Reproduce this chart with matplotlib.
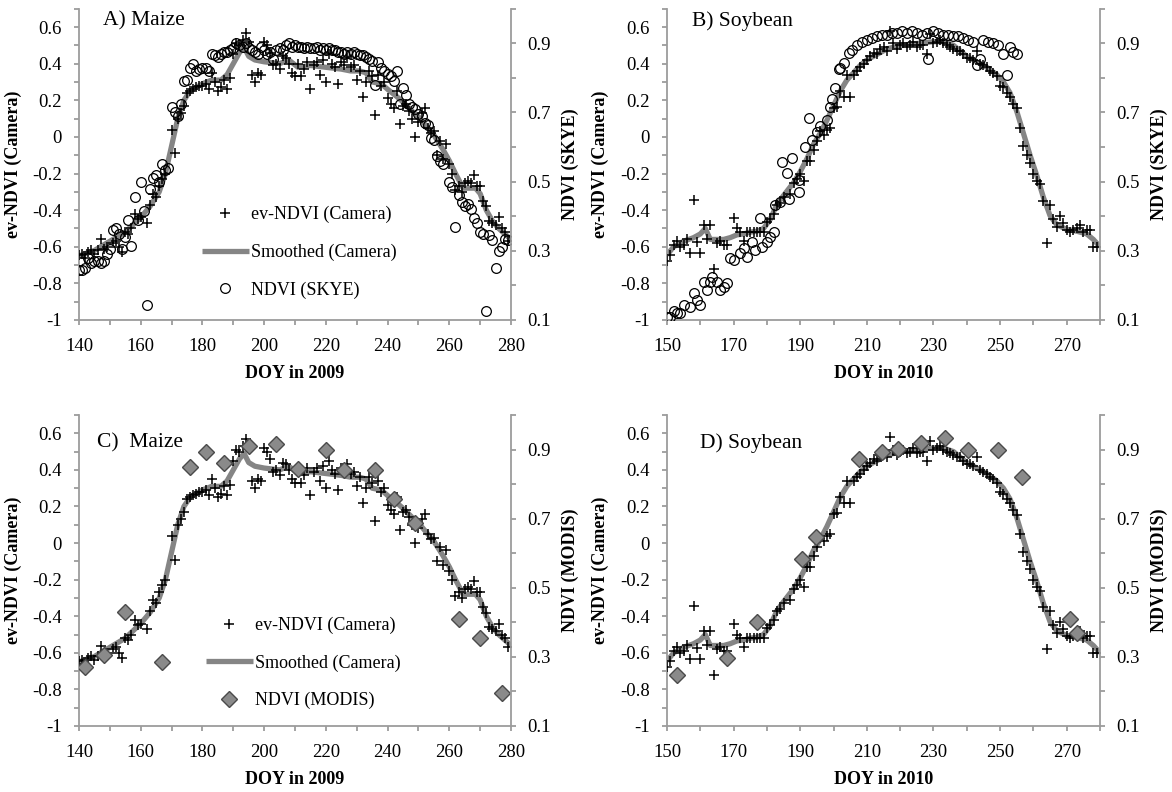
import numpy as np
import matplotlib
matplotlib.use('Agg')
import matplotlib.pyplot as plt
from matplotlib.ticker import FixedLocator, FuncFormatter
from matplotlib.lines import Line2D

plt.rcParams['font.family'] = ['Liberation Serif', 'DejaVu Serif']
plt.rcParams['axes.unicode_minus'] = False

# ---- maize 2009 ----
maize_cam_doy = [140, 141, 142, 143, 144, 145, 146, 147, 148, 149, 151, 152, 153, 154, 155, 156, 157, 158,
                 159, 160, 162, 163, 164, 165, 166, 167, 168, 170, 171, 172, 173, 174, 175, 176, 177, 178,
                 179, 180, 181, 182, 183, 184, 185, 186, 187, 188, 189, 190, 191, 192, 193, 194, 195, 196,
                 197, 198, 199, 200, 201, 202, 203, 204, 205, 206, 207, 208, 209, 210, 211, 212, 213, 214,
                 215, 216, 217, 218, 219, 220, 221, 222, 223, 224, 225, 226, 227, 228, 229, 230, 231, 232,
                 233, 234, 235, 236, 237, 238, 239, 240, 241, 242, 243, 244, 245, 246, 247, 248, 249, 250,
                 251, 252, 253, 254, 255, 256, 257, 258, 259, 260, 261, 262, 263, 264, 265, 266, 267, 268,
                 269, 270, 271, 272, 273, 274, 275, 276, 277, 278, 279]
maize_cam = [-0.645, -0.64, -0.66, -0.63, -0.62, -0.64, -0.62, -0.56, -0.61, -0.60, -0.58, -0.57, -0.60,
             -0.63, -0.52, -0.53, -0.50, -0.42, -0.45, -0.44, -0.47, -0.37, -0.31, -0.33, -0.27, -0.23,
             -0.20, 0.04, -0.09, 0.10, 0.13, 0.17, 0.24, 0.25, 0.26, 0.27, 0.28, 0.28, 0.29, 0.26, 0.35,
             0.30, 0.25, 0.27, 0.31, 0.26, 0.32, 0.45, 0.51, 0.50, 0.53, 0.57, 0.52, 0.34, 0.30, 0.35,
             0.34, 0.52, 0.50, 0.46, 0.39, 0.40, 0.37, 0.44, 0.43, 0.40, 0.35, 0.33, 0.40, 0.33, 0.37,
             0.41, 0.26, 0.39, 0.41, 0.34, 0.42, 0.30, 0.45, 0.40, 0.38, 0.29, 0.41, 0.39, 0.43, 0.38,
             0.39, 0.31, 0.36, 0.22, 0.30, 0.36, 0.33, 0.12, 0.34, 0.28, 0.30, 0.21, 0.18, 0.16, 0.25,
             0.07, 0.17, 0.18, 0.14, 0.10, 0.00, 0.08, 0.13, 0.16, 0.05, 0.02, 0.03, -0.10, -0.02, -0.12,
             -0.04, -0.15, -0.20, -0.29, -0.27, -0.30, -0.25, -0.24, -0.25, -0.21, -0.27, -0.27, -0.35,
             -0.38, -0.46, -0.47, -0.48, -0.44, -0.50, -0.52, -0.57]

maize_smooth_doy = [140, 145, 150, 155, 160, 163, 166, 168, 170, 172, 174, 176, 180, 183, 186, 188, 190,
                    192, 193.5, 195, 197, 200, 205, 208, 211, 215, 220, 225, 228, 231, 233, 235, 238, 240,
                    243, 245, 248, 250, 252, 255, 258, 260, 262, 264.5, 266, 268.5, 270, 272, 274, 276,
                    278, 280]
maize_smooth = [-0.65, -0.62, -0.57, -0.52, -0.44, -0.38, -0.30, -0.20, -0.05, 0.10, 0.20, 0.25, 0.29,
                0.31, 0.31, 0.34, 0.40, 0.46, 0.49, 0.44, 0.42, 0.41, 0.40, 0.42, 0.38, 0.39, 0.38, 0.37,
                0.36, 0.36, 0.35, 0.30, 0.29, 0.26, 0.22, 0.19, 0.14, 0.11, 0.07, 0.01, -0.07, -0.13,
                -0.20, -0.28, -0.28, -0.28, -0.31, -0.40, -0.46, -0.50, -0.53, -0.56]

maize_skye_doy = [140, 141, 142, 143, 144, 145, 146, 147, 148, 149, 150, 151, 152, 153, 154, 155, 156,
                  157, 158, 159, 160, 161, 162, 163, 164, 165, 166, 167, 168, 169, 170, 171, 172, 173,
                  174, 175, 176, 177, 178, 179, 180, 181, 182, 183, 184, 185, 186, 187, 188, 189, 190,
                  191, 192, 193, 194, 195, 196, 197, 198, 199, 200, 201, 202, 203, 204, 205, 206, 207,
                  208, 209, 210, 211, 212, 213, 214, 215, 216, 217, 218, 219, 220, 221, 222, 223, 224,
                  225, 226, 227, 228, 229, 230, 231, 232, 233, 234, 235, 236, 237, 238, 239, 240, 241,
                  242, 243, 244, 245, 246, 247, 248, 249, 250, 251, 252, 253, 254, 255, 256, 257, 258,
                  260, 261, 262, 263, 264, 265, 266, 267, 268, 269, 270, 271, 272, 273, 274, 275, 276,
                  277, 278, 279]
maize_skye = [0.245, 0.245, 0.25, 0.28, 0.265, 0.27, 0.27, 0.265, 0.27, 0.29, 0.305, 0.36, 0.365, 0.35,
              0.305, 0.34, 0.39, 0.315, 0.455, 0.39, 0.50, 0.415, 0.143, 0.48, 0.51, 0.52, 0.50, 0.55,
              0.535, 0.54, 0.715, 0.70, 0.69, 0.725, 0.79, 0.795, 0.83, 0.84, 0.82, 0.825, 0.83, 0.83,
              0.82, 0.87, 0.865, 0.86, 0.87, 0.875, 0.875, 0.88, 0.885, 0.90, 0.895, 0.89, 0.90, 0.885,
              0.88, 0.875, 0.87, 0.89, 0.88, 0.87, 0.875, 0.855, 0.88, 0.885, 0.88, 0.895, 0.90, 0.89,
              0.895, 0.89, 0.89, 0.885, 0.89, 0.885, 0.885, 0.89, 0.88, 0.885, 0.88, 0.885, 0.88, 0.88,
              0.875, 0.875, 0.87, 0.875, 0.87, 0.875, 0.87, 0.865, 0.865, 0.86, 0.855, 0.85, 0.78, 0.845,
              0.83, 0.82, 0.81, 0.805, 0.79, 0.82, 0.725, 0.77, 0.75, 0.725, 0.715, 0.71, 0.695, 0.69,
              0.67, 0.665, 0.625, 0.62, 0.575, 0.56, 0.55, 0.50, 0.485, 0.37, 0.46, 0.44, 0.43, 0.435,
              0.42, 0.395, 0.38, 0.355, 0.35, 0.126, 0.345, 0.33, 0.25, 0.30, 0.31, 0.335, 0.33]

maize_modis_doy = [142, 148, 155, 167, 176, 181, 187, 195, 204, 211, 220, 226, 236, 242, 249, 263, 270, 277]
maize_modis = [0.27, 0.305, 0.43, 0.285, 0.85, 0.893, 0.86, 0.91, 0.915, 0.845, 0.898, 0.842, 0.842,
               0.758, 0.688, 0.41, 0.355, 0.195]

# ---- soybean 2010 ----
soy_cam_doy = [150, 151, 152, 153, 154, 155, 156, 157, 158, 159, 160, 161, 162, 163, 164, 165, 166, 167,
               168, 170, 171, 172, 173, 174, 175, 176, 177, 178, 179, 180, 181, 182, 183, 184, 185, 187,
               188, 189, 190, 191, 192, 193, 194, 195, 196, 197, 198, 199, 200, 201, 202, 203, 204, 205,
               206, 207, 208, 209, 210, 211, 212, 213, 214, 215, 216, 217, 218, 219, 220, 221, 222, 223,
               224, 225, 226, 227, 228, 229, 230, 231, 232, 233, 234, 235, 236, 237, 238, 239, 240, 241,
               242, 243, 244, 245, 246, 247, 248, 249, 250, 251, 252, 253, 254, 255, 256, 257, 258, 259,
               260, 261, 262, 263, 264, 265, 266, 267, 268, 269, 270, 271, 272, 273, 274, 275, 276, 277,
               278, 279]
soy_cam = [-0.68, -0.645, -0.59, -0.57, -0.60, -0.59, -0.555, -0.635, -0.345, -0.575, -0.635, -0.48,
           -0.555, -0.48, -0.72, -0.58, -0.57, -0.59, -0.59, -0.445, -0.50, -0.52, -0.57, -0.52, -0.52,
           -0.52, -0.52, -0.52, -0.52, -0.465, -0.45, -0.42, -0.37, -0.36, -0.33, -0.31, -0.25, -0.23,
           -0.20, -0.24, -0.13, -0.13, -0.07, -0.02, 0.03, 0.01, 0.04, 0.05, 0.16, 0.165, 0.25, 0.22,
           0.34, 0.22, 0.34, 0.36, 0.38, 0.40, 0.42, 0.44, 0.46, 0.45, 0.48, 0.49, 0.47, 0.58, 0.51,
           0.48, 0.50, 0.51, 0.49, 0.50, 0.52, 0.49, 0.50, 0.50, 0.45, 0.56, 0.51, 0.52, 0.53, 0.51,
           0.50, 0.49, 0.48, 0.47, 0.47, 0.45, 0.43, 0.43, 0.42, 0.47, 0.40, 0.39, 0.38, 0.36, 0.35,
           0.33, 0.28, 0.27, 0.24, 0.22, 0.18, 0.156, 0.05, -0.05, -0.10, -0.14, -0.20, -0.24, -0.26,
           -0.35, -0.58, -0.37, -0.45, -0.49, -0.43, -0.47, -0.51, -0.52, -0.51, -0.50, -0.48, -0.52,
           -0.51, -0.51, -0.60, -0.60]

soy_smooth_doy = [150, 152, 155, 158, 160, 161.5, 163, 165, 167, 169, 171, 173, 175, 177, 179, 181, 183,
                  185, 188, 190, 192, 194, 196, 198, 200, 202, 204, 206, 208, 210, 213, 216, 220, 225,
                  230, 233, 236, 238, 240, 243, 246, 249, 251, 253, 255, 257, 259, 261, 263, 265, 267,
                  270, 273, 276, 278, 280]
soy_smooth = [-0.645, -0.60, -0.57, -0.55, -0.53, -0.50, -0.56, -0.56, -0.56, -0.55, -0.535, -0.53,
              -0.52, -0.515, -0.50, -0.45, -0.37, -0.32, -0.25, -0.19, -0.12, -0.04, 0.02, 0.09, 0.17,
              0.25, 0.31, 0.35, 0.39, 0.42, 0.45, 0.48, 0.50, 0.51, 0.52, 0.52, 0.50, 0.47, 0.44, 0.41,
              0.38, 0.34, 0.30, 0.24, 0.14, 0.02, -0.10, -0.21, -0.33, -0.43, -0.48, -0.505, -0.515,
              -0.53, -0.56, -0.60]

soy_skye_doy = [150, 151, 152, 153, 154, 155, 157, 158, 159, 160, 161, 162, 163, 163.5, 165, 166, 167,
                168, 169, 170, 172, 173, 174, 175.5, 176.5, 178, 178.5, 180, 181, 182, 182.5, 184, 184.5,
                186, 186.5, 187.5, 189.5, 189.5, 191.5, 192.5, 193.5, 195, 196, 198, 199, 199.5, 200.5,
                201.5, 202, 203, 204.5, 205.5, 207, 208.5, 210, 211.5, 213, 214.5, 216, 217.5, 219,
                220.5, 222, 223.5, 225, 226.5, 228, 228.5, 230, 231.5, 233, 234.5, 236, 237.5, 239,
                240.5, 242, 243, 244, 245, 246.5, 248, 249.5, 251, 252, 253, 254, 255]
soy_skye = [0.108, 0.11, 0.127, 0.12, 0.12, 0.143, 0.137, 0.177, 0.157, 0.143, 0.21, 0.186, 0.21, 0.225,
            0.21, 0.186, 0.196, 0.206, 0.278, 0.273, 0.293, 0.307, 0.283, 0.326, 0.302, 0.394, 0.31,
            0.326, 0.34, 0.355, 0.432, 0.442, 0.557, 0.524, 0.45, 0.567, 0.47, 0.505, 0.60, 0.683, 0.62,
            0.644, 0.66, 0.678, 0.716, 0.74, 0.77, 0.827, 0.83, 0.842, 0.871, 0.88, 0.895, 0.905, 0.91,
            0.915, 0.92, 0.925, 0.925, 0.93, 0.93, 0.935, 0.93, 0.935, 0.93, 0.925, 0.93, 0.856, 0.935,
            0.93, 0.925, 0.925, 0.92, 0.92, 0.915, 0.91, 0.905, 0.837, 0.856, 0.909, 0.905, 0.90, 0.895,
            0.87, 0.808, 0.89, 0.875, 0.87]

soy_modis_doy = [153, 168, 177, 190.4, 194.8, 207.7, 214.4, 219.4, 226.4, 233.4, 240.4, 249.4, 256.5, 271, 273]
soy_modis = [0.248, 0.296, 0.40, 0.582, 0.647, 0.874, 0.893, 0.903, 0.919, 0.934, 0.90, 0.90, 0.82, 0.41, 0.37]

GRAY_AXIS = '#9c9c9c'
GRAY_LINE = '#858585'
GRAY_DIAMOND = '#8a8a8a'

fig = plt.figure(figsize=(11.72, 7.92), dpi=100)
W, H = 1172, 792


def add_axes(left, right, top, bottom):
    return fig.add_axes([left / W, 1 - bottom / H, (right - left) / W, (bottom - top) / H])


def fmt(v, pos):
    return f'{round(v, 1):g}'


def draw_panel(ax, title, title_xy, cam_doy, cam, sm_doy, sm, ref_doy, ref, ref_kind, xlim, xmajor,
               xminor, xlabel, rlabel, leg_anchor, leg_labels):
    ax2 = ax.twinx()
    ax.plot(sm_doy, sm, color=GRAY_LINE, lw=3.8, solid_capstyle='butt', zorder=2)
    ax.plot(cam_doy, cam, ls='none', marker='+', color='black', ms=6.5, mew=1.1, zorder=3)
    if ref_kind == 'o':
        ax2.plot(ref_doy, ref, ls='none', marker='o', mfc='none', mec='black', ms=7, mew=0.9)
        ref_handle = Line2D([], [], ls='none', marker='o', mfc='none', mec='black', ms=7, mew=0.9)
    else:
        ax2.plot(ref_doy, ref, ls='none', marker='D', mfc=GRAY_DIAMOND, mec='#4a4a4a', ms=8.5, mew=1.0)
        ref_handle = Line2D([], [], ls='none', marker='D', mfc=GRAY_DIAMOND, mec='#4a4a4a', ms=8.5, mew=1.0)

    ax.set_xlim(*xlim)
    ax.set_ylim(-1, 0.7)
    ax2.set_ylim(0.1, 1.0)
    for s in ['top', 'right']:
        ax.spines[s].set_visible(False)
    for s in ['top', 'left', 'bottom']:
        ax2.spines[s].set_visible(False)
    for sp in [ax.spines['left'], ax.spines['bottom'], ax2.spines['right']]:
        sp.set_color(GRAY_AXIS)
        sp.set_linewidth(1.3)

    ax.xaxis.set_major_locator(FixedLocator(xmajor))
    ax.xaxis.set_minor_locator(FixedLocator(xminor))
    ax.yaxis.set_major_locator(FixedLocator([-1, -0.8, -0.6, -0.4, -0.2, 0, 0.2, 0.4, 0.6]))
    ax.yaxis.set_minor_locator(FixedLocator(np.arange(-1, 0.71, 0.1)))
    ax2.yaxis.set_major_locator(FixedLocator([0.1, 0.3, 0.5, 0.7, 0.9]))
    ax2.yaxis.set_minor_locator(FixedLocator([0.2, 0.4, 0.6, 0.8, 1.0]))
    ax.yaxis.set_major_formatter(FuncFormatter(fmt))
    ax2.yaxis.set_major_formatter(FuncFormatter(fmt))
    for a in (ax, ax2):
        a.tick_params(which='both', direction='out', length=3.3, width=1.3, color=GRAY_AXIS,
                      labelsize=13.5)
    ax.tick_params(axis='y', which='both', pad=9)
    ax.tick_params(axis='x', which='both', pad=9.5)
    ax2.tick_params(axis='y', which='both', pad=8.5)

    ax.set_xlabel(xlabel, fontsize=13, fontweight='bold')
    ax.xaxis.set_label_coords(0.5, -0.145)
    ax.set_ylabel('ev-NDVI (Camera)', fontsize=13, fontweight='bold')
    ax.yaxis.set_label_coords(-0.133, 0.5)
    ax2.set_ylabel(rlabel, fontsize=13, fontweight='bold')
    ax2.yaxis.set_label_coords(1.117, 0.5)

    ax.text(title_xy[0], title_xy[1], title, transform=ax.transAxes, fontsize=15.5,
            ha='left', va='center')

    if leg_labels is not None:
        handles = [Line2D([], [], ls='none', marker='+', color='black', ms=6.5, mew=1.1),
                   Line2D([], [], color=GRAY_LINE, lw=3.8, solid_capstyle='butt'),
                   ref_handle]
        ax2.legend(handles, leg_labels, loc='upper left', bbox_to_anchor=leg_anchor, frameon=False,
                   fontsize=13, handlelength=2.6, handletextpad=0.12, labelspacing=1.12,
                   borderaxespad=0, borderpad=0.4, numpoints=1)


axA = add_axes(79, 511, 8.7, 320)
axB = add_axes(667, 1100, 8.7, 320)
axC = add_axes(79, 511, 415, 726)
axD = add_axes(667, 1100, 415, 726)

maize_major = np.arange(140, 281, 20)
maize_minor = np.arange(140, 281, 10)
soy_major = np.arange(150, 281, 20)
soy_minor = np.arange(150, 281, 10)

draw_panel(axA, 'A) Maize', (0.056, 0.96), maize_cam_doy, maize_cam, maize_smooth_doy, maize_smooth,
           maize_skye_doy, maize_skye, 'o', (140, 280), maize_major, maize_minor, 'DOY in 2009',
           'NDVI (SKYE)', (0.268, 0.389), ['ev-NDVI (Camera)', 'Smoothed (Camera)', 'NDVI (SKYE)'])
draw_panel(axB, 'B) Soybean', (0.058, 0.96), soy_cam_doy, soy_cam, soy_smooth_doy, soy_smooth,
           soy_skye_doy, soy_skye, 'o', (150, 280), soy_major, soy_minor, 'DOY in 2010',
           'NDVI (SKYE)', None, None)
draw_panel(axC, 'C)  Maize', (0.042, 0.909), maize_cam_doy, maize_cam, maize_smooth_doy, maize_smooth,
           maize_modis_doy, maize_modis, 'D', (140, 280), maize_major, maize_minor, 'DOY in 2009',
           'NDVI (MODIS)', (0.277, 0.374), ['ev-NDVI (Camera)', 'Smoothed (Camera)', 'NDVI (MODIS)'])
draw_panel(axD, 'D) Soybean', (0.076, 0.909), soy_cam_doy, soy_cam, soy_smooth_doy, soy_smooth,
           soy_modis_doy, soy_modis, 'D', (150, 280), soy_major, soy_minor, 'DOY in 2010',
           'NDVI (MODIS)', None, None)

fig.savefig('out.png', dpi=100)
